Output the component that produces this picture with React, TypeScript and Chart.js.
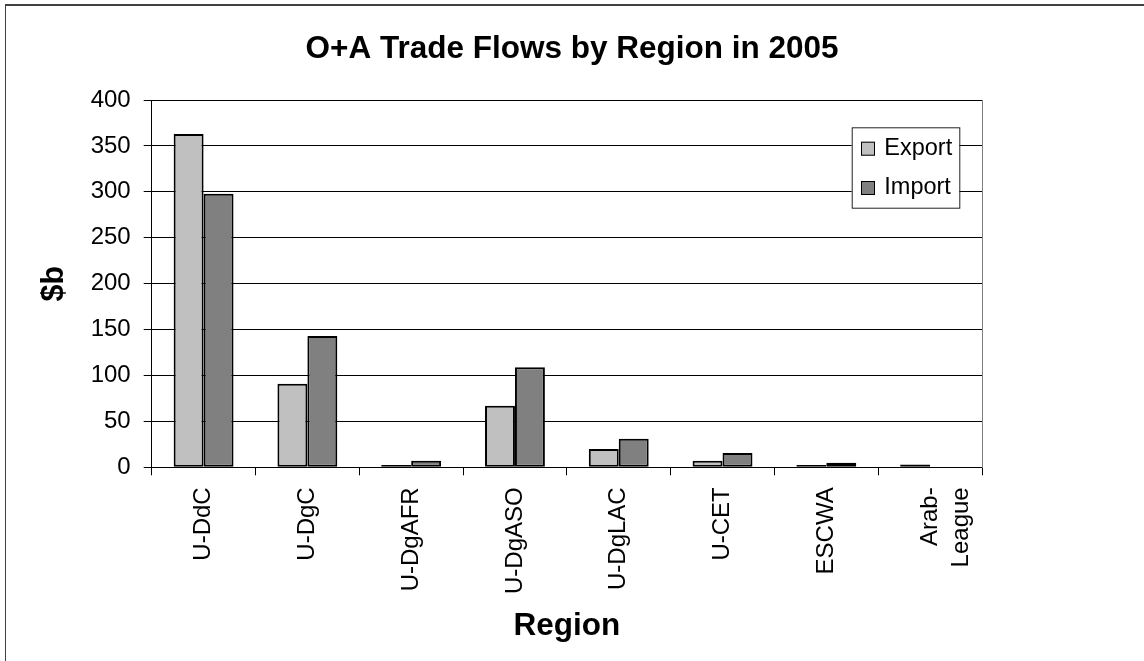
import React, { useEffect, useRef } from "react";
import { Chart, registerables } from "chart.js";

Chart.register(...registerables);

const categories: (string | string[])[] = [
  "U-DdC",
  "U-DgC",
  "U-DgAFR",
  "U-DgASO",
  "U-DgLAC",
  "U-CET",
  "ESCWA",
  ["Arab-", "League"],
];
const exportValues = [363, 91, 2.5, 67, 20, 7, 2.5, 3];
const importValues = [298, 143, 7, 109, 31, 15.5, 5, 0];
const seriesNames = ["Export", "Import"];
const titleText = "O+A Trade Flows by Region in 2005";
const xTitle = "Region";
const yTitle = "$b";

const FONT = "'Liberation Sans', Arial, sans-serif";

const legendPlugin = {
  id: "boxLegend",
  afterDatasetsDraw(chart: any) {
    const { ctx, chartArea } = chart;
    const x0 = chartArea.right - 130.3;
    const y0 = chartArea.top + 27.3;
    const w = 107.6;
    const h = 80.4;
    ctx.save();
    ctx.fillStyle = "#ffffff";
    ctx.fillRect(x0, y0, w, h);
    ctx.strokeStyle = "#222";
    ctx.lineWidth = 1;
    ctx.strokeRect(x0 + 0.5, y0 + 0.5, w, h);
    chart.data.datasets.forEach((ds: any, i: number) => {
      const sy = y0 + 14.4 + i * 39.3;
      ctx.fillStyle = ds.backgroundColor;
      ctx.fillRect(x0 + 9.3, sy, 14, 14);
      ctx.strokeStyle = "#000";
      ctx.strokeRect(x0 + 9.8, sy + 0.5, 13, 13);
      ctx.fillStyle = "#000";
      ctx.font = `23.5px ${FONT}`;
      ctx.textBaseline = "middle";
      ctx.textAlign = "left";
      ctx.fillText(ds.label, x0 + 32.6, sy + 7);
    });
    ctx.restore();
  },
};

export default function App() {
  const ref = useRef<HTMLCanvasElement | null>(null);

  useEffect(() => {
    if (!ref.current) return;
    Chart.defaults.font.family = FONT;
    const chart = new Chart(ref.current, {
      type: "bar",
      data: {
        labels: categories,
        datasets: [
          {
            label: seriesNames[0],
            data: exportValues,
            backgroundColor: "#C0C0C0",
            borderColor: "#000",
            borderWidth: 2,
            borderSkipped: false,
            categoryPercentage: 0.577,
            barPercentage: 1,
            yAxisID: "y",
          },
          {
            label: seriesNames[1],
            data: importValues,
            backgroundColor: "#808080",
            borderColor: "#000",
            borderWidth: 2,
            borderSkipped: false,
            categoryPercentage: 0.577,
            barPercentage: 1,
            yAxisID: "y",
          },
        ],
      },
      options: {
        responsive: false,
        animation: false,
        devicePixelRatio: 1,
        layout: { padding: 0 },
        plugins: {
          legend: { display: false },
          tooltip: { enabled: false },
          title: {
            display: true,
            text: titleText,
            color: "#000",
            font: { size: 31.5, weight: "bold", family: FONT, lineHeight: 1.2 },
            padding: { top: 30.7, bottom: 31.5 },
          },
        },
        scales: {
          x: {
            grid: {
              display: true,
              drawOnChartArea: false,
              drawTicks: true,
              tickLength: 8,
              color: "#000",
              lineWidth: 1,
              offset: true,
            },
            border: { display: true, color: "#000", width: 1 },
            ticks: {
              color: "#000",
              font: { size: 24, family: FONT, lineHeight: 1.32 },
              maxRotation: 90,
              minRotation: 90,
              padding: 12,
              autoSkip: false,
            },
            title: {
              display: true,
              text: xTitle,
              color: "#000",
              font: { size: 31.5, weight: "bold", family: FONT, lineHeight: 1.2 },
              padding: { top: 19, bottom: 15.4 },
            },
            afterFit: (s: any) => {
              s.height = 193.7;
            },
          },
          y: {
            position: "left",
            min: 0,
            max: 400,
            ticks: {
              stepSize: 50,
              color: "#000",
              font: { size: 24, family: FONT },
              padding: 13,
            },
            grid: {
              color: "#000",
              lineWidth: 1,
              drawTicks: true,
              tickLength: 8,
            },
            border: { display: true, color: "#000", width: 1 },
            title: {
              display: true,
              text: yTitle,
              color: "#000",
              font: { size: 30.5, weight: "bold", family: FONT, lineHeight: 1.2 },
              padding: { top: 36, bottom: 10 },
            },
            afterFit: (s: any) => {
              s.width = 151.7;
            },
          },
          y2: {
            position: "right",
            display: true,
            grid: { display: false, drawTicks: false },
            ticks: { display: false },
            border: { display: true, color: "#808080", width: 1 },
            afterFit: (s: any) => {
              s.width = 162;
            },
          },
        },
      },
      plugins: [legendPlugin],
    });
    return () => chart.destroy();
  }, []);

  return (
    <div
      style={{
        position: "fixed",
        left: 0,
        top: 0,
        width: 1144,
        height: 661,
        overflow: "hidden",
        background: "#fff",
      }}
    >
      <div
        style={{
          position: "absolute",
          left: 4.5,
          top: 4,
          width: 1300,
          height: 800,
          borderTop: "2px solid #404040",
          borderLeft: "1px solid #404040",
        }}
      />
      <canvas
        ref={ref}
        width={1144}
        height={661}
        style={{ position: "absolute", left: 0, top: 0, width: 1144, height: 661 }}
      />
    </div>
  );
}
